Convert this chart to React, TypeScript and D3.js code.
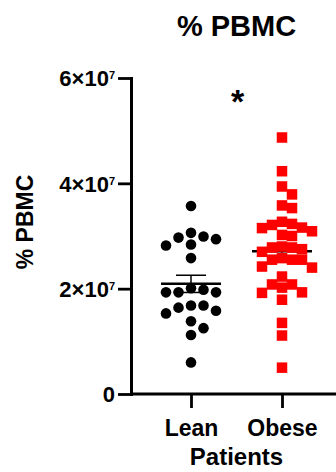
import * as d3 from 'd3';
import { useEffect, useRef } from 'react';

const groups = ['Lean', 'Obese'];
const leanValues = [
  3.57e7, 3.06e7, 2.99e7, 2.97e7, 2.94e7, 2.84e7, 2.82e7, 2.58e7, 2.01e7, 1.98e7, 1.93e7,
  1.93e7, 1.93e7, 1.68e7, 1.68e7, 1.64e7, 1.58e7, 1.53e7, 1.38e7, 1.25e7, 1.12e7, 0.6e7
];
const obeseValues = [
  4.87e7, 4.23e7, 3.94e7, 3.79e7, 3.58e7, 3.53e7, 3.27e7, 3.23e7, 3.21e7, 3.16e7, 3.15e7, 3.09e7,
  3.02e7, 3.0e7, 2.8e7, 2.78e7, 2.78e7, 2.75e7, 2.7e7, 2.58e7, 2.55e7, 2.55e7, 2.55e7, 2.42e7,
  2.4e7, 2.23e7, 2.08e7, 2.08e7, 2.02e7, 1.93e7, 1.92e7, 1.79e7, 1.35e7, 1.11e7, 0.5e7
];
const yTicks = [0, 2e7, 4e7, 6e7];
const title = '% PBMC';
const yLabel = '% PBMC';
const xLabel = 'Patients';
const significance = '*';

const FONT = "'Liberation Sans', Arial, Helvetica, sans-serif";

// simple Prism-like column swarm
function swarm(values: number[], y: (v: number) => number, step: number, minDy: number) {
  const placed: { v: number; y: number; dx: number }[] = [];
  const sorted = [...values].sort((a, b) => b - a);
  for (const v of sorted) {
    const py = y(v);
    for (let k = 0; k < 20; k++) {
      const cands = k === 0 ? [0] : [k, -k];
      let found: number | null = null;
      for (const c of cands) {
        const dx = c * step;
        const hit = placed.some((p) => Math.abs(p.dx - dx) < step * 0.99 && Math.abs(p.y - py) < minDy);
        if (!hit) { found = dx; break; }
      }
      if (found !== null) { placed.push({ v, y: py, dx: found }); break; }
    }
  }
  return placed;
}

export default function App() {
  const ref = useRef<SVGSVGElement | null>(null);

  useEffect(() => {
    const svg = d3.select(ref.current);
    svg.selectAll('*').remove();

    const y = d3.scaleLinear().domain([0, 6e7]).range([394, 78]);
    const x = d3.scalePoint<string>().domain(groups).range([191, 282]);
    const axisLeftX = 131;

    // y axis
    const yAxis = svg.append('g')
      .attr('transform', `translate(${axisLeftX},0)`)
      .call(d3.axisLeft(y).tickValues(yTicks).tickSize(13).tickSizeOuter(0).tickPadding(3));
    yAxis.attr('font-family', FONT).attr('font-size', 22).attr('font-weight', 'bold');
    yAxis.select('.domain').attr('stroke', '#000').attr('stroke-width', 3).attr('stroke-linecap', 'square');
    yAxis.selectAll('.tick line').attr('stroke', '#000').attr('stroke-width', 2.8);
    yAxis.selectAll<SVGTextElement, number>('.tick text').each(function (d) {
      const t = d3.select(this);
      t.text(null).attr('fill', '#000').attr('dy', '0.36em');
      if (d === 0) {
        t.text('0');
      } else {
        t.append('tspan').text(`${d / 1e7}×10`);
        t.append('tspan').attr('font-size', 11).attr('dy', -7).text('7');
      }
    });

    // x axis
    const xAxis = svg.append('g')
      .attr('transform', `translate(0,${y(0)})`)
      .call(d3.axisBottom(x).tickSize(14).tickSizeOuter(0).tickPadding(8));
    xAxis.select('.domain').remove();
    xAxis.append('line').attr('x1', axisLeftX - 1).attr('x2', 336).attr('stroke', '#000').attr('stroke-width', 3);
    xAxis.attr('font-family', FONT).attr('font-size', 23).attr('font-weight', 'bold');
    xAxis.selectAll('.tick line').attr('stroke', '#000').attr('stroke-width', 2.8);
    xAxis.selectAll('.tick text').attr('fill', '#000').attr('dy', '0.88em');

    // mean +/- SEM
    const series = [
      { name: 'Lean', values: leanValues, bar: '#000' },
      { name: 'Obese', values: obeseValues, bar: '#ff0000' }
    ];
    series.forEach((s) => {
      const m = d3.mean(s.values)!;
      const sem = d3.deviation(s.values)! / Math.sqrt(s.values.length);
      const cx = x(s.name)!;
      const g = svg.append('g');
      g.append('line').attr('x1', cx).attr('x2', cx).attr('y1', y(m - sem)).attr('y2', y(m + sem))
        .attr('stroke', s.bar).attr('stroke-width', 1.5);
      [m - sem, m + sem].forEach((v) => {
        g.append('line').attr('x1', cx - 15).attr('x2', cx + 15).attr('y1', y(v)).attr('y2', y(v))
          .attr('stroke', s.bar).attr('stroke-width', 1.5);
      });
      g.append('line').attr('x1', cx - 30).attr('x2', cx + 30).attr('y1', y(m)).attr('y2', y(m))
        .attr('stroke', '#000').attr('stroke-width', 2.5);
    });

    // points
    const lean = swarm(leanValues, y, 12.5, 10.5);
    svg.append('g').selectAll('circle').data(lean).enter().append('circle')
      .attr('cx', (d) => x('Lean')! + d.dx)
      .attr('cy', (d) => d.y)
      .attr('r', 5.3)
      .attr('fill', '#000');

    const obese = swarm(obeseValues, y, 10, 9.5);
    const sq = 10.5;
    svg.append('g').selectAll('rect').data(obese).enter().append('rect')
      .attr('x', (d) => x('Obese')! + d.dx - sq / 2)
      .attr('y', (d) => d.y - sq / 2)
      .attr('width', sq)
      .attr('height', sq)
      .attr('fill', '#ff0000');

    // texts
    const mid = (x('Lean')! + x('Obese')!) / 2;
    svg.append('text').attr('x', mid).attr('y', 36).attr('text-anchor', 'middle')
      .attr('font-family', FONT).attr('font-size', 29).attr('font-weight', 'bold').text(title);
    svg.append('text').attr('x', mid + 1).attr('y', 113).attr('text-anchor', 'middle')
      .attr('font-family', FONT).attr('font-size', 34).attr('font-weight', 'bold').text(significance);
    svg.append('text').attr('transform', `translate(33,222) rotate(-90)`).attr('text-anchor', 'middle')
      .attr('font-family', FONT).attr('font-size', 23).attr('font-weight', 'bold').text(yLabel);
    svg.append('text').attr('x', mid).attr('y', 465).attr('text-anchor', 'middle')
      .attr('font-family', FONT).attr('font-size', 24).attr('font-weight', 'bold').text(xLabel);
  }, []);

  return (
    <svg ref={ref} width={336} height={472} style={{ position: 'absolute', left: 0, top: 0, background: '#fff' }} />
  );
}
